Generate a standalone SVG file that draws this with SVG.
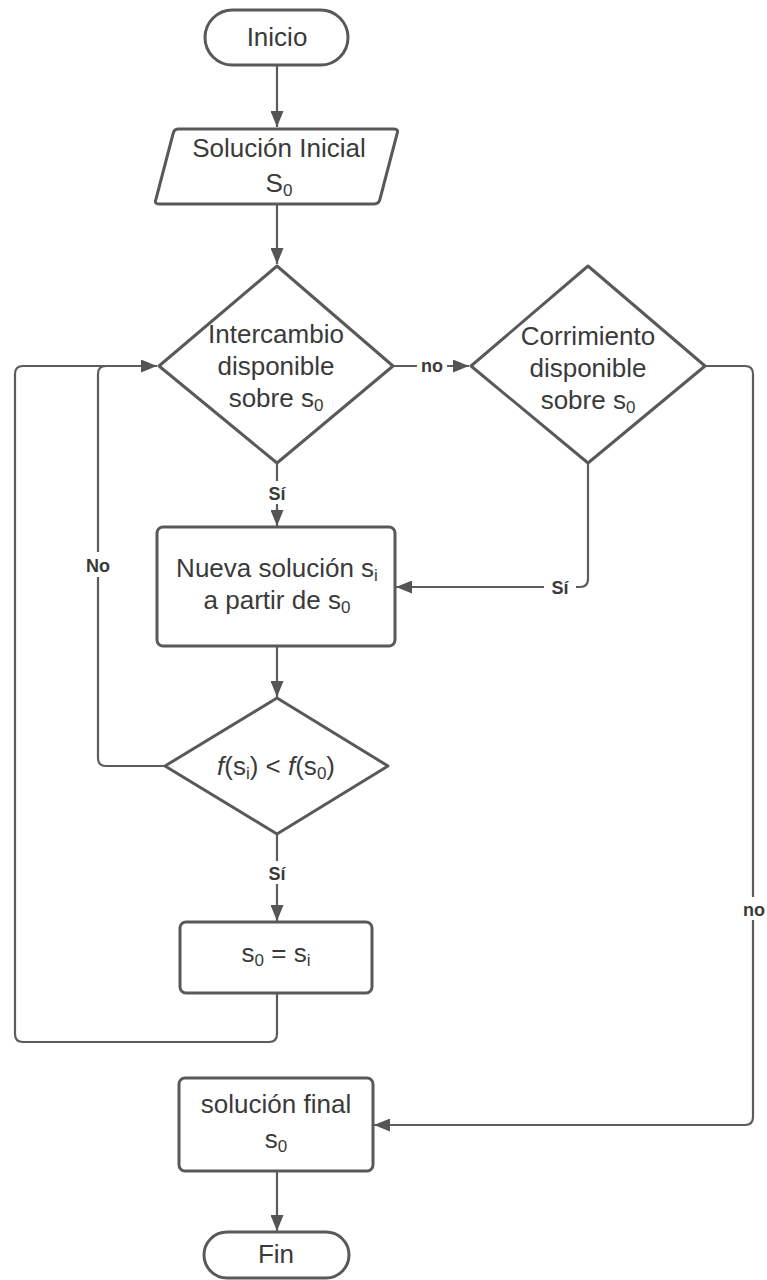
<svg xmlns="http://www.w3.org/2000/svg" width="767" height="1280" viewBox="0 0 767 1280">
<defs>
<style>
.n{fill:#fff;stroke:#595959;stroke-width:3;stroke-linejoin:round}
.t{font-family:"Liberation Sans",Arial,sans-serif;font-size:26px;fill:#3a3a3a;text-anchor:middle}
.sub{font-size:17px}
.c{fill:none;stroke:#5c5c5c;stroke-width:2.2;stroke-linejoin:round}
.l{font-family:"Liberation Sans",Arial,sans-serif;font-size:18px;font-weight:bold;fill:#3a3a3a;text-anchor:middle}
.bg{fill:#fff}
</style>
<marker id="a" viewBox="0 0 16 13" refX="16" refY="6.5" markerWidth="16" markerHeight="13" markerUnits="userSpaceOnUse" orient="auto">
<path d="M0,0 L16,6.5 L0,13 Z" fill="#555"/>
</marker>
</defs>
<rect width="767" height="1280" fill="#fff"/>
<g id="connectors">
<path class="c" d="M277,66 V127" marker-end="url(#a)"/>
<path class="c" d="M277,205 V264" marker-end="url(#a)"/>
<path class="c" d="M394,366 H469" marker-end="url(#a)"/>
<path class="c" d="M277,464 V526" marker-end="url(#a)"/>
<path class="c" d="M588,464 V579 Q588,587 580,587 H396" marker-end="url(#a)"/>
<path class="c" d="M706,366 H745 Q753,366 753,374 V1117 Q753,1125 745,1125 H374" marker-end="url(#a)"/>
<path class="c" d="M277,647 V697" marker-end="url(#a)"/>
<path class="c" d="M166,766 H106 Q98,766 98,758 V374 Q98,366 106,366"/>
<path class="c" d="M277,835 V921" marker-end="url(#a)"/>
<path class="c" d="M277,994 V1034 Q277,1042 269,1042 H23 Q15,1042 15,1034 V374 Q15,366 23,366 H157" marker-end="url(#a)"/>
<path class="c" d="M277,1172 V1231" marker-end="url(#a)"/>
<rect class="bg" x="417" y="355" width="30" height="21"/>
<text class="l" x="432" y="372">no</text>
<rect class="bg" x="262" y="481" width="30" height="23"/>
<text class="l" x="277" y="500">Sí</text>
<rect class="bg" x="544" y="576" width="32" height="21"/>
<text class="l" x="560" y="594">Sí</text>
<rect class="bg" x="82" y="552" width="32" height="25"/>
<text class="l" x="98" y="572">No</text>
<rect class="bg" x="262" y="861" width="30" height="23"/>
<text class="l" x="277" y="880">Sí</text>
<rect class="bg" x="738" y="897" width="30" height="23"/>
<text class="l" x="754" y="916">no</text>
</g>
<g id="inicio">
<rect class="n" x="205" y="10" width="143" height="55" rx="27.5"/>
<text class="t" x="277" y="46">Inicio</text>
</g>
<g id="solucion-inicial">
<path class="n" d="M178,129 H394 Q399,129 397,134 L380,199 Q379,204 374,204 H159 Q154,204 156,199 L173,134 Q174,129 178,129 Z"/>
<text class="t" x="279" y="157">Solución Inicial</text>
<text class="t" x="279" y="192">S<tspan class="sub" dy="4">0</tspan></text>
</g>
<g id="intercambio">
<path class="n" d="M277,266 L393,366 L277,463 L159,366 Z"/>
<text class="t" x="276" y="343">Intercambio</text>
<text class="t" x="276" y="375">disponible</text>
<text class="t" x="276" y="407">sobre s<tspan class="sub" dy="4">0</tspan></text>
</g>
<g id="corrimiento">
<path class="n" d="M588,266 L705,366 L588,463 L471,366 Z"/>
<text class="t" x="588" y="345">Corrimiento</text>
<text class="t" x="588" y="377">disponible</text>
<text class="t" x="588" y="409">sobre s<tspan class="sub" dy="4">0</tspan></text>
</g>
<g id="nueva-solucion">
<rect class="n" x="157" y="527" width="238" height="119" rx="6"/>
<text class="t" x="277" y="577">Nueva solución s<tspan class="sub" dy="4">i</tspan></text>
<text class="t" x="277" y="609">a partir de s<tspan class="sub" dy="4">0</tspan></text>
</g>
<g id="comparacion">
<path class="n" d="M277,698 L388,766 L277,834 L165,766 Z"/>
<text class="t" x="276" y="775"><tspan font-style="italic">f</tspan>(s<tspan class="sub" dy="4">i</tspan><tspan dy="-4">) &lt; </tspan><tspan font-style="italic">f</tspan>(s<tspan class="sub" dy="4">0</tspan><tspan dy="-4">)</tspan></text>
</g>
<g id="asignacion">
<rect class="n" x="180" y="922" width="192" height="71" rx="6"/>
<text class="t" x="276" y="962">s<tspan class="sub" dy="4">0</tspan><tspan dy="-4"> = s</tspan><tspan class="sub" dy="4">i</tspan></text>
</g>
<g id="solucion-final">
<rect class="n" x="179" y="1078" width="194" height="93" rx="6"/>
<text class="t" x="276" y="1113">solución final</text>
<text class="t" x="276" y="1148">s<tspan class="sub" dy="4">0</tspan></text>
</g>
<g id="fin">
<rect class="n" x="204" y="1232" width="145" height="46" rx="23"/>
<text class="t" x="276" y="1263">Fin</text>
</g>
</svg>
